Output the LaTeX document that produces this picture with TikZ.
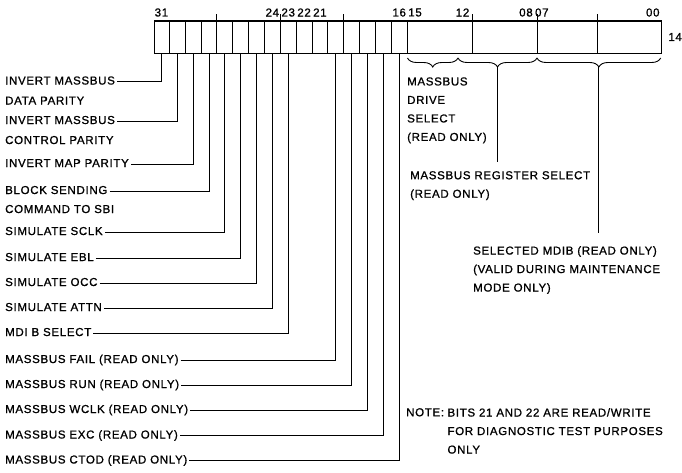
\documentclass[tikz,border=0pt]{standalone}
\usepackage{fontspec}
\setmainfont[LetterSpace=6,FakeBold=1]{Liberation Sans}
\usetikzlibrary{positioning,decorations.pathreplacing}

\begin{document}
\begin{tikzpicture}[
  x=1pt, y=-1pt,
  font=\fontsize{11.5}{18.5}\selectfont,
  regbox/.style={draw, line width=1.5pt, minimum width=507.2pt, minimum height=32.5pt,
                 anchor=north west, inner sep=0pt},
  cell/.style={line width=1pt},
  bitnum/.style={inner sep=0pt},
  lbl/.style={anchor=west, inner sep=2pt, text height=8pt, text depth=2pt},
  txt/.style={anchor=north west, align=left, inner sep=0pt},
  lead/.style={line width=0.9pt},
  fbrace/.style={decorate, decoration={brace, mirror, amplitude=9pt}, line width=0.9pt},
]
\useasboundingbox (0,0) rectangle (682,472);
% --- register and bit cells ---
\node[regbox] (reg) at (153.5,20) {};
\foreach \k in {1,...,16}
  \draw[cell] ({153.5+\k*15.85},20) -- ++(0,32.5);
\foreach \x in {472.5,537,597.3}
  \draw[cell] (\x,20) -- ++(0,32.5);
% --- ticks over the field boundaries ---
\foreach \k in {4,8,12}
  \draw[cell] ({153.5+\k*15.85},20) -- ++(0,-6.5);
\foreach \x in {472.5,537,597.3}
  \draw[cell] (\x,20) -- ++(0,-6.5);
% --- bit feet ---
\foreach \b in {16,...,31}
  \coordinate (b\b) at ({153.5+(31.5-\b)*15.85},52.5);
% --- bit numbers ---
\foreach \b/\t in {31/31,24/24,23/23,22/22,21/21,16/16,15/15,12/12,8/08,7/07,0/00}
  \node[bitnum] (n\b) at ({153.5+(31.5-\b)*15.85},12.5) {\t};
\node[bitnum, right=6pt of reg] (addr) {14};
% --- left labels ---
\node[lbl] (l31) at (3,81.5) {INVERT MASSBUS};
\node[lbl, below=20pt of l31.west, anchor=west] (l31b) {DATA PARITY};
\node[lbl] (l30) at (3,121) {INVERT MASSBUS};
\node[lbl, below=20pt of l30.west, anchor=west] (l30b) {CONTROL PARITY};
\node[lbl] (l29) at (3,164) {INVERT MAP PARITY};
\node[lbl] (l28) at (3,191) {BLOCK SENDING};
\node[lbl, below=19pt of l28.west, anchor=west] (l28b) {COMMAND TO SBI};
\node[lbl] (l27) at (3,232) {SIMULATE SCLK};
\node[lbl] (l26) at (3,258) {SIMULATE EBL};
\node[lbl] (l25) at (3,283) {SIMULATE OCC};
\node[lbl] (l24) at (3,308) {SIMULATE ATTN};
\node[lbl] (l23) at (3,333) {MDI B SELECT};
\node[lbl] (l20) at (3,360) {MASSBUS FAIL (READ ONLY)};
\node[lbl] (l19) at (3,385) {MASSBUS RUN (READ ONLY)};
\node[lbl] (l18) at (3,410) {MASSBUS WCLK (READ ONLY)};
\node[lbl] (l17) at (3,435.5) {MASSBUS EXC (READ ONLY)};
\node[lbl] (l16) at (3,460.5) {MASSBUS CTOD (READ ONLY)};
\foreach \b in {31,30,...,23,20,19,...,16}
  \draw[lead] (l\b.east) -| (b\b);
% --- low word fields ---
\draw[fbrace] (407.5,58) -- coordinate[pos=0.5, yshift=-9pt] (dtip) (458,58);
\draw[fbrace] (458,58) -- coordinate[pos=0.5, yshift=-9pt] (rtip) (537,58);
\draw[fbrace] (537,58) -- coordinate[pos=0.5, yshift=-9pt] (mtip) (660.7,58);
\node[txt] (dsel) at (407,77.2) {MASSBUS\\DRIVE\\SELECT\\(READ ONLY)};
\node[txt] (rsel) at (410,171) {MASSBUS REGISTER SELECT\\(READ ONLY)};
\node[txt] (msel) at (473,246) {SELECTED MDIB (READ ONLY)\\(VALID DURING MAINTENANCE\\MODE ONLY)};
\draw[lead, shorten >=9pt] (rtip) -- (rtip |- rsel.north);
\draw[lead, shorten >=13pt] (mtip) -- (mtip |- msel.north);
% --- note ---
\node[txt] (note) at (406,408) {NOTE:};
\node[txt, right=3pt of note.north east, anchor=north west] (notebody)
  {BITS 21 AND 22 ARE READ/WRITE\\FOR DIAGNOSTIC TEST PURPOSES\\ONLY};
\end{tikzpicture}
\end{document}
